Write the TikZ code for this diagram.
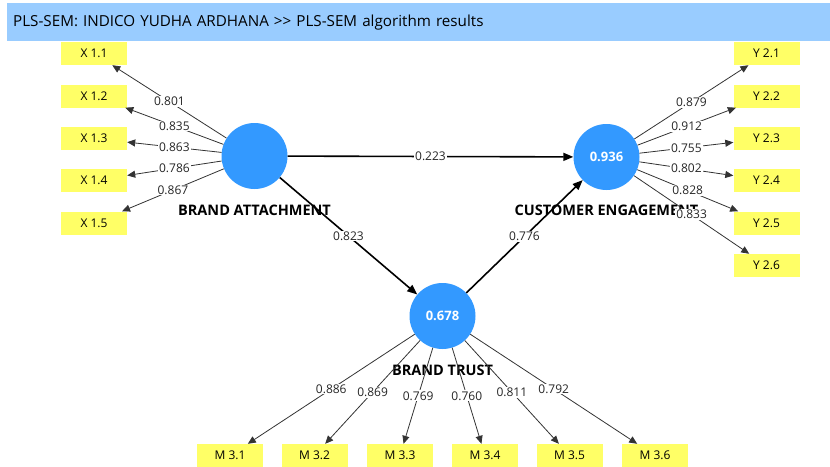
\documentclass[tikz,border=0pt]{standalone}
\usepackage{fontspec}
\setmainfont{Open Sans}
\usetikzlibrary{arrows.meta, positioning}
\definecolor{barblue}{RGB}{153,204,255}
\definecolor{lvblue}{RGB}{51,153,255}
\definecolor{mvyellow}{RGB}{255,255,102}

\begin{document}
\begin{tikzpicture}[
  x=1pt, y=-1pt,
  titlebar/.style={rectangle, fill=barblue, minimum width=823pt, minimum height=38pt,
               text width=811pt, inner xsep=6pt, align=left, font=\fontsize{15.2}{17}\selectfont},
  latent/.style={circle, fill=lvblue, minimum size=66pt, inner sep=0pt, text=white,
               font=\fontsize{13}{15}\selectfont\bfseries},
  lvname/.style={inner sep=0pt, font=\fontsize{14.5}{16}\selectfont\bfseries},
  indicator/.style={rectangle, fill=mvyellow, minimum width=66pt, minimum height=23pt,
               inner sep=0pt, font=\fontsize{12}{14}\selectfont},
  loading/.style={-{Triangle[length=8pt,width=7pt]}, line width=0.8pt, color=black!80},
  structural/.style={-{Triangle[length=10pt,width=8pt]}, line width=1.6pt},
  coef/.style={fill=white, inner sep=1pt, text=black!85, font=\fontsize{12}{14}\selectfont}
]
\useasboundingbox (0,0) rectangle (830,466);

\node[titlebar, anchor=north west] (title) at (7,3) {PLS-SEM: INDICO YUDHA ARDHANA >{}> PLS-SEM algorithm results};

% latent variables
\node[latent] (ba) at (254.5,156) {};
\node[latent] (ce) at (606.5,157) {0.936};
\node[latent] (bt) at (442.5,316) {0.678};

\node[lvname, below=15.3pt of ba] (balabel) {BRAND ATTACHMENT};
\node[lvname, below=15pt of ce] (celabel) {CUSTOMER ENGAGEMENT};
\node[lvname, below=15.8pt of bt] (btlabel) {BRAND TRUST};

% indicators
\node[indicator] (x11) at (94,53.5) {X 1.1};
\node[indicator] (x12) at (94,96) {X 1.2};
\node[indicator] (x13) at (94,138.5) {X 1.3};
\node[indicator] (x14) at (94,180.5) {X 1.4};
\node[indicator] (x15) at (94,223) {X 1.5};

\node[indicator] (y21) at (766.5,53.5) {Y 2.1};
\node[indicator] (y22) at (766.5,96) {Y 2.2};
\node[indicator] (y23) at (766.5,138.5) {Y 2.3};
\node[indicator] (y24) at (766.5,180.5) {Y 2.4};
\node[indicator] (y25) at (766.5,223) {Y 2.5};
\node[indicator] (y26) at (766.5,265.5) {Y 2.6};

\node[indicator] (m31) at (230,455.5) {M 3.1};
\node[indicator] (m32) at (314.5,455.5) {M 3.2};
\node[indicator] (m33) at (400,455.5) {M 3.3};
\node[indicator] (m34) at (485,455.5) {M 3.4};
\node[indicator] (m35) at (569.5,455.5) {M 3.5};
\node[indicator] (m36) at (655,455.5) {M 3.6};

% inner model
\draw[structural] (ba) -- node[coef] {0.223} (ce);
\draw[structural] (ba) -- node[coef] {0.823} (bt);
\draw[structural] (bt) -- node[coef] {0.776} (ce);

% outer loadings
\draw[loading] (ba) -- node[coef] {0.801} (x11);
\draw[loading] (ba) -- node[coef] {0.835} (x12);
\draw[loading] (ba) -- node[coef] {0.863} (x13);
\draw[loading] (ba) -- node[coef] {0.786} (x14);
\draw[loading] (ba) -- node[coef] {0.867} (x15);

\draw[loading] (ce) -- node[coef] {0.879} (y21);
\draw[loading] (ce) -- node[coef] {0.912} (y22);
\draw[loading] (ce) -- node[coef] {0.755} (y23);
\draw[loading] (ce) -- node[coef] {0.802} (y24);
\draw[loading] (ce) -- node[coef] {0.828} (y25);
\draw[loading] (ce) -- node[coef] {0.833} (y26);

\draw[loading] (bt) -- node[coef] {0.886} (m31);
\draw[loading] (bt) -- node[coef] {0.869} (m32);
\draw[loading] (bt) -- node[coef] {0.769} (m33);
\draw[loading] (bt) -- node[coef] {0.760} (m34);
\draw[loading] (bt) -- node[coef] {0.811} (m35);
\draw[loading] (bt) -- node[coef] {0.792} (m36);

\end{tikzpicture}
\end{document}
